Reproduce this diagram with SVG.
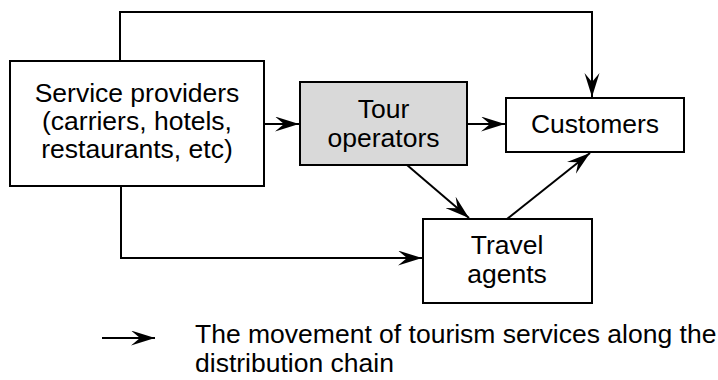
<svg xmlns="http://www.w3.org/2000/svg" width="718" height="380" viewBox="0 0 718 380">
<style>
.box{fill:#fff;stroke:#000;stroke-width:2}
.gray{fill:#d9d9d9}
.t{font-family:"Liberation Sans",Arial,sans-serif;font-size:26.5px;fill:#000;text-anchor:middle}
.l{font-family:"Liberation Sans",Arial,sans-serif;font-size:26.5px;fill:#000}
.c{fill:none;stroke:#000;stroke-width:2}
</style>
<defs>
<marker id="ah" markerUnits="userSpaceOnUse" markerWidth="26" markerHeight="16" refX="24" refY="7.5" orient="auto">
<path d="M0,0 L24,7.5 L0,15 L9,7.5 Z" fill="#000"/>
</marker>
</defs>
<rect width="718" height="380" fill="#fff"/>
<g id="connectors">
<polyline class="c" points="120,61 120,12 592,12 592,97" marker-end="url(#ah)"/>
<line class="c" x1="264" y1="124" x2="299" y2="124" marker-end="url(#ah)"/>
<line class="c" x1="467" y1="124" x2="505" y2="124" marker-end="url(#ah)"/>
<line class="c" x1="407" y1="165" x2="469" y2="218" marker-end="url(#ah)"/>
<line class="c" x1="507" y1="219" x2="590" y2="153" marker-end="url(#ah)"/>
<polyline class="c" points="121,186 121,258 422,258" marker-end="url(#ah)"/>
</g>
<g id="service-providers">
<rect class="box" x="10" y="61" width="254" height="125"/>
<text class="t" x="137" y="102">Service providers</text>
<text class="t" x="137" y="130">(carriers, hotels,</text>
<text class="t" x="137" y="158">restaurants, etc)</text>
</g>
<g id="tour-operators">
<rect class="box gray" x="300" y="82" width="167" height="83"/>
<text class="t" x="383.5" y="118">Tour</text>
<text class="t" x="383.5" y="147">operators</text>
</g>
<g id="customers">
<rect class="box" x="506" y="98" width="178" height="54"/>
<text class="t" x="595" y="133">Customers</text>
</g>
<g id="travel-agents">
<rect class="box" x="423" y="219" width="169" height="84"/>
<text class="t" x="507" y="254">Travel</text>
<text class="t" x="507" y="283">agents</text>
</g>
<g id="legend">
<line class="c" x1="102" y1="338" x2="155" y2="338" marker-end="url(#ah)"/>
<text class="l" x="195" y="343">The movement of tourism services along the</text>
<text class="l" x="195" y="372">distribution chain</text>
</g>
</svg>
